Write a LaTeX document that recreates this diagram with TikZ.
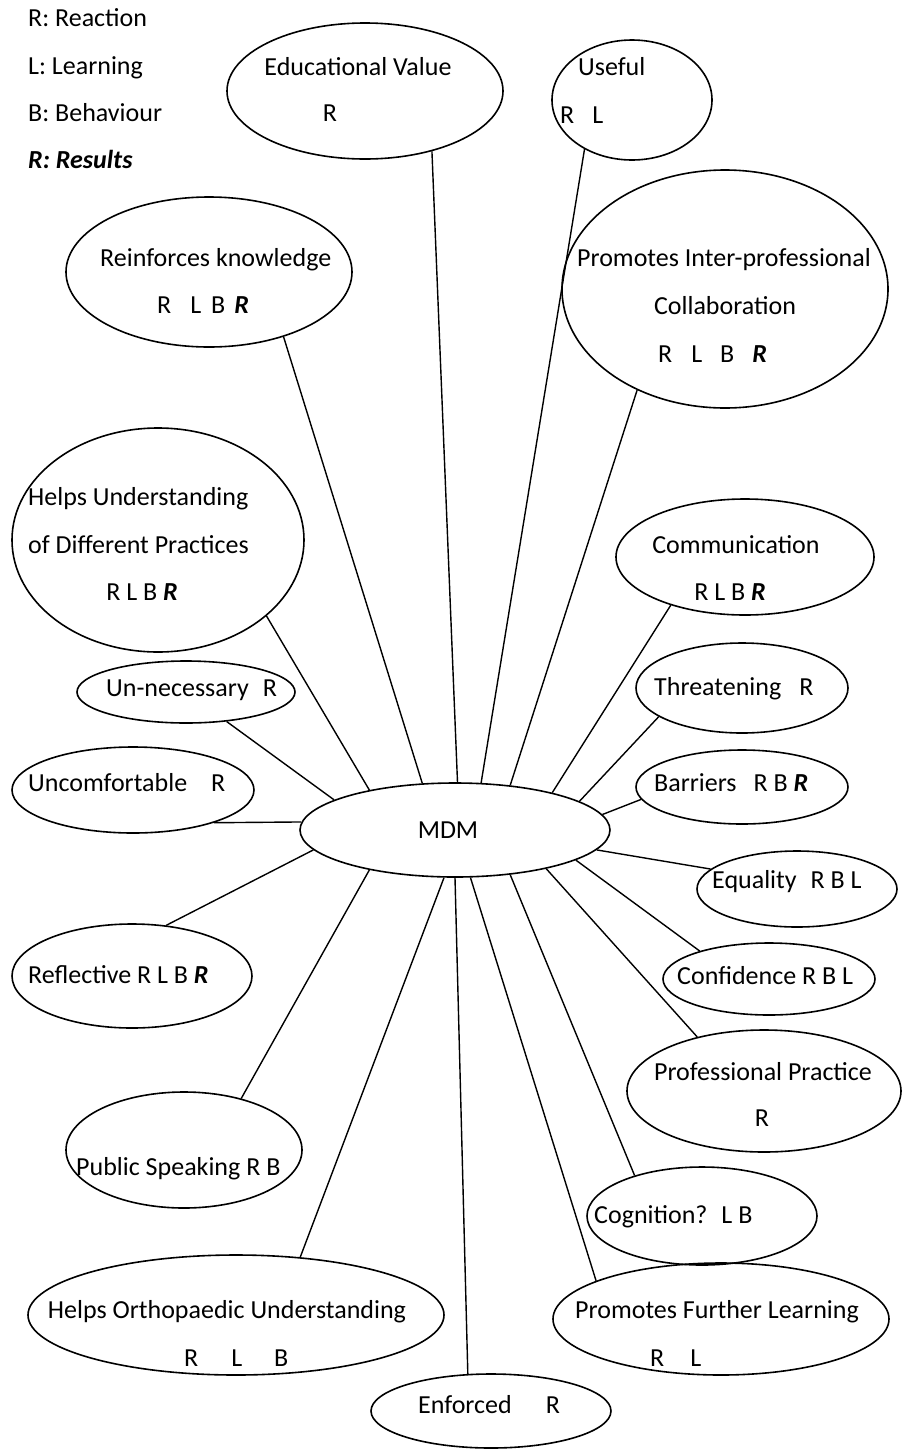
\documentclass[tikz,border=0pt]{standalone}
\usepackage{fontspec}
\setmainfont{Carlito}
\usetikzlibrary{shapes.geometric}
\newcommand{\BR}{\textbf{\textit{R}}}
\begin{document}
\begin{tikzpicture}[x=1pt,y=-1pt,
  ell/.style={draw,ellipse,line width=1.6pt,inner sep=0pt},
  txt/.style={inner sep=0pt,anchor=base,yshift=-8pt,font=\fontsize{26}{30}\selectfont},
  txtl/.style={txt,anchor=base west},
  link/.style={line width=1.4pt}]
\useasboundingbox (0,0) rectangle (902,1449);
% legend
\node[txtl] (lg1) at (28,18) {R: Reaction};
\node[txtl] (lg2) at (28,66) {L: Learning};
\node[txtl] (lg3) at (28,113) {B: Behaviour};
\node[txtl] (lg4) at (28,160) {\textbf{\textit{R: Results}}};
% ellipses
\node[ell,minimum width=310,minimum height=94] (mdm) at (455,830) {};
\node[ell,minimum width=276,minimum height=136] (ev) at (365,91) {};
\node[ell,minimum width=160,minimum height=120] (us) at (632,100) {};
\node[ell,minimum width=286,minimum height=150] (rk) at (209,272) {};
\node[ell,minimum width=326,minimum height=238] (pic) at (725,289) {};
\node[ell,minimum width=292,minimum height=224] (hud) at (158,540) {};
\node[ell,minimum width=218,minimum height=62] (un) at (186,692) {};
\node[ell,minimum width=242,minimum height=86] (uc) at (133,790) {};
\node[ell,minimum width=240,minimum height=104] (rf) at (132,976) {};
\node[ell,minimum width=236,minimum height=116] (ps) at (184,1150) {};
\node[ell,minimum width=416,minimum height=120] (ho) at (236,1315) {};
\node[ell,minimum width=240,minimum height=74] (en) at (491,1411) {};
\node[ell,minimum width=230,minimum height=98] (cg) at (702,1216) {};
\node[ell,minimum width=336,minimum height=112] (pf) at (721,1319) {};
\node[ell,minimum width=258,minimum height=116] (cm) at (745,557) {};
\node[ell,minimum width=212,minimum height=90] (th) at (742,688) {};
\node[ell,minimum width=212,minimum height=74] (ba) at (742,787) {};
\node[ell,minimum width=200,minimum height=76] (eq) at (797,889) {};
\node[ell,minimum width=212,minimum height=72] (cf) at (769,979) {};
\node[ell,minimum width=274,minimum height=122] (pp) at (764,1091) {};
% texts
\node[txt] (tmdm) at (448,830) {MDM};
\node[txt] (tev1) at (358,67) {Educational Value};
\node[txt] (tev2) at (330,113) {R};
\node[txtl] (tus1) at (578,67) {Useful};
\node[txtl] (tus2) at (560,115) {R\hspace{18pt}L};
\node[txtl] (trk1) at (100,258) {Reinforces knowledge};
\node[txtl] (trk2) at (157,305) {R\hspace{19pt}L\hspace{10pt}B\hspace{9pt}\BR};
\node[txt] (tpic1) at (724,258) {Promotes Inter-professional};
\node[txt] (tpic2) at (725,306) {Collaboration};
\node[txtl] (tpic3) at (658,354) {R\hspace{19pt}L\hspace{18pt}B\hspace{18pt}\BR};
\node[txtl] (thud1) at (28,497) {Helps Understanding};
\node[txtl] (thud2) at (28,545) {of Different Practices};
\node[txt] (thud3) at (142,592) {R L B \BR};
\node[txtl] (tun) at (106,688) {Un-necessary\hspace{14pt}R};
\node[txtl] (tuc) at (28,783) {Uncomfortable\hspace{24pt}R};
\node[txtl] (trf) at (28,975) {Reflective R L B \BR};
\node[txtl] (tps) at (76,1167) {Public Speaking R B};
\node[txt] (tho1) at (227,1310) {Helps Orthopaedic Understanding};
\node[txtl] (tho2) at (184,1358) {R\hspace{33pt}L\hspace{32pt}B};
\node[txtl] (ten) at (418,1405) {Enforced\hspace{34pt}R};
\node[txtl] (tcg) at (594,1215) {Cognition?\hspace{14pt}L B};
\node[txt] (tpf1) at (717,1310) {Promotes Further Learning};
\node[txtl] (tpf2) at (650,1358) {R\hspace{26pt}L};
\node[txt] (tcm1) at (736,545) {Communication};
\node[txt] (tcm2) at (730,592) {R L B \BR};
\node[txtl] (tth) at (654,687) {Threatening\hspace{18pt}R};
\node[txtl] (tba) at (654,783) {Barriers\hspace{17pt}R B \BR};
\node[txtl] (teq) at (712,880) {Equality\hspace{14pt}R B L};
\node[txtl] (tcf) at (677,976) {Confidence R B L};
\node[txt] (tpp1) at (763,1072) {Professional Practice};
\node[txt] (tpp2) at (762,1118) {R};
% connectors
\draw[link] (ev.-42.2) -- (mdm.87.7);
\draw[link] (us.226.8) -- (mdm.61.6);
\draw[link] (pic.229.9) -- (mdm.39);
\draw[link] (cm.213.9) -- (mdm.21.8);
\draw[link] (th.199.5) -- (mdm.13.5);
\draw[link] (ba.187) -- (mdm.6.7);
\draw[link] (eq.167.7) -- (mdm.-8.8);
\draw[link] (cf.158) -- (mdm.-14.6);
\draw[link] (pp.141.6) -- (mdm.-23.4);
\draw[link] (cg.149.4) -- (mdm.-39.5);
\draw[link] (pf.163) -- (mdm.-72.3);
\draw[link] (en.122.2) -- (mdm.-90);
\draw[link] (ho.42.3) -- (mdm.-103.5);
\draw[link] (ps.42.9) -- (mdm.205.8);
\draw[link] (rf.56) -- (mdm.188.9);
\draw[link] (uc.-22.4) -- (mdm.177.4);
\draw[link] (un.-36.4) -- (mdm.166);
\draw[link] (hud.-35) -- (mdm.155);
\draw[link] (rk.-41.3) -- (mdm.125.4);
\end{tikzpicture}
\end{document}
